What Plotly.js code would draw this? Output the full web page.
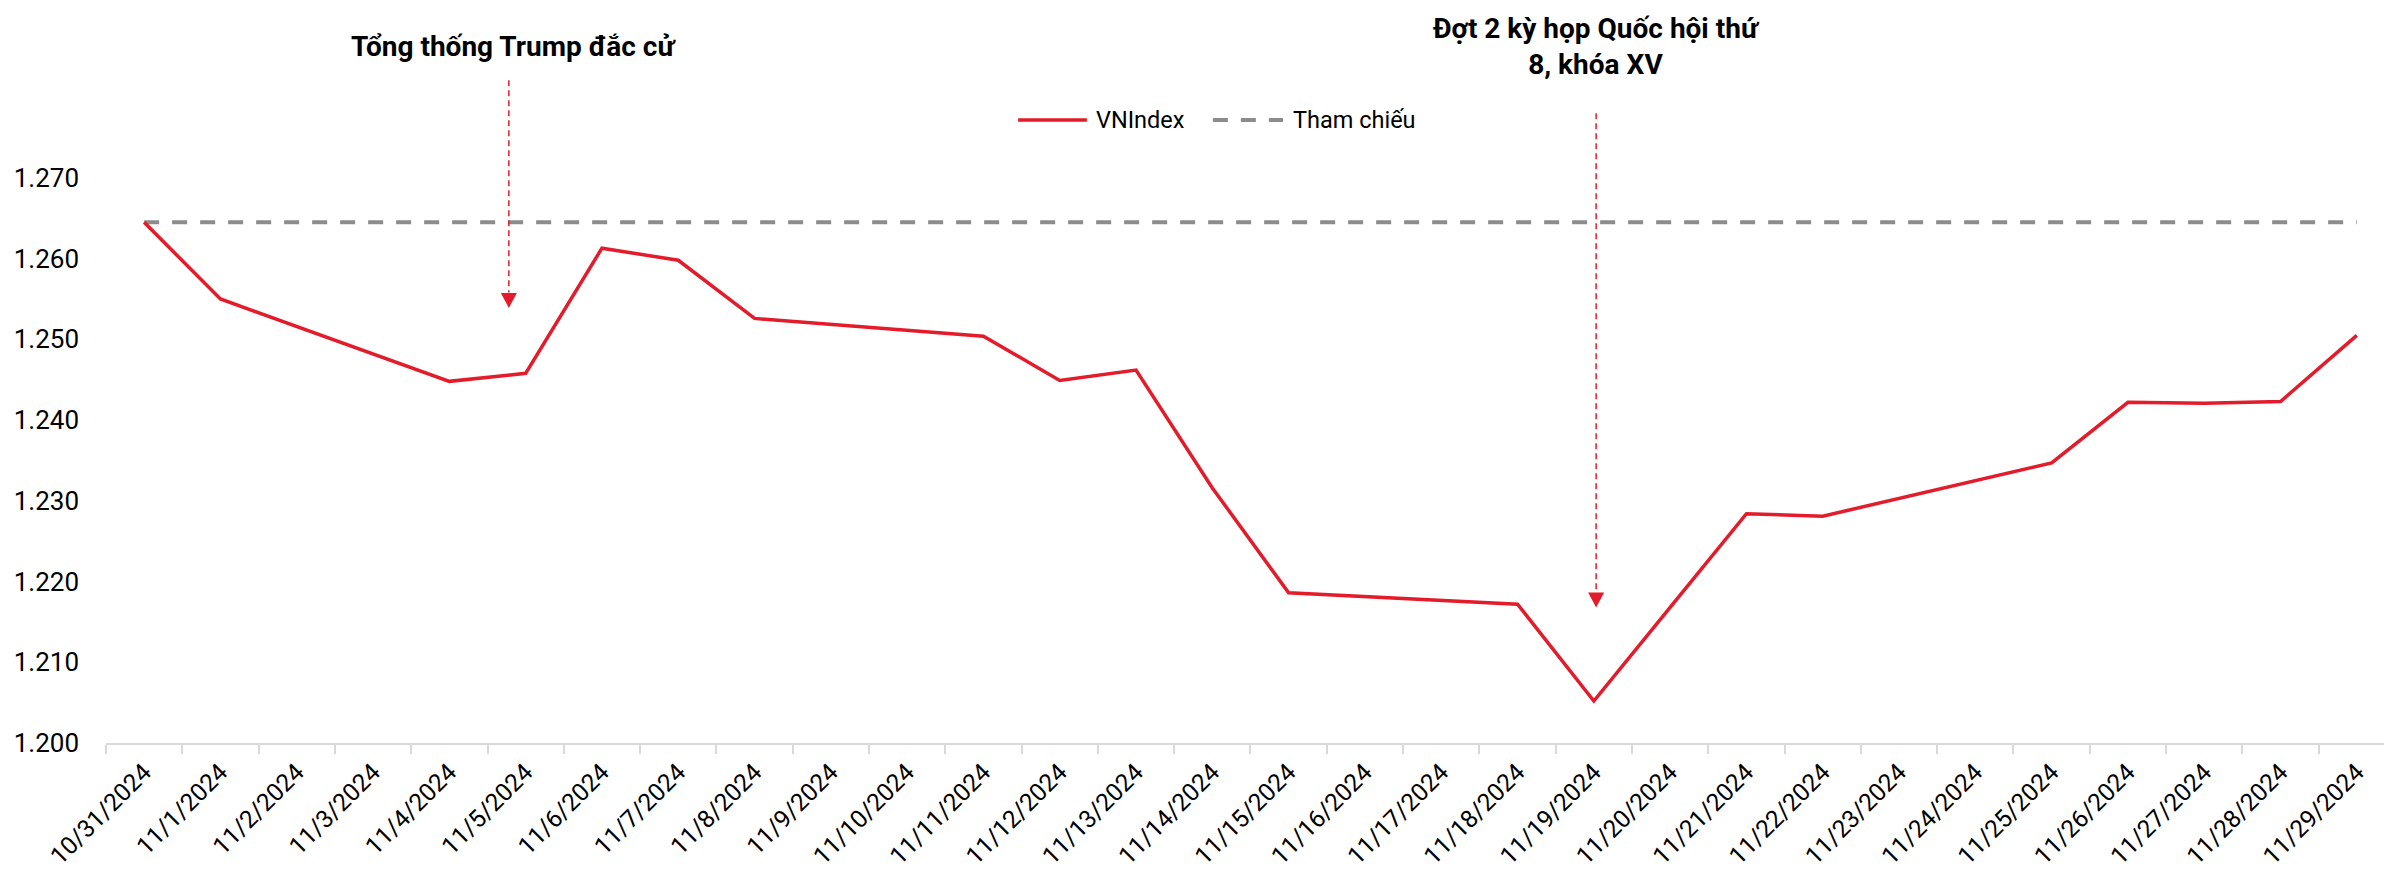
<!DOCTYPE html>
<html>
<head>
<meta charset="utf-8">
<script src="https://cdn.plot.ly/plotly-3.0.1.min.js"></script>
<style>
html,body{margin:0;padding:0;background:#fff;}
#chart{width:2384px;height:873px;}
</style>
</head>
<body>
<div id="chart"></div>
<script>
// ---- data ----
var dates = ["10/31/2024","11/1/2024","11/2/2024","11/3/2024","11/4/2024","11/5/2024","11/6/2024","11/7/2024","11/8/2024","11/9/2024","11/10/2024","11/11/2024","11/12/2024","11/13/2024","11/14/2024","11/15/2024","11/16/2024","11/17/2024","11/18/2024","11/19/2024","11/20/2024","11/21/2024","11/22/2024","11/23/2024","11/24/2024","11/25/2024","11/26/2024","11/27/2024","11/28/2024","11/29/2024"];
var vnindex = [1264.5,1255.0,null,null,1244.8,1245.8,1261.3,1259.8,1252.6,null,null,1250.4,1244.9,1246.2,1231.6,1218.6,null,null,1217.2,1205.2,1216.8,1228.4,1228.1,null,null,1234.7,1242.2,1242.1,1242.3,1250.5];
var thamChieu = [1264.5,1264.5,1264.5,1264.5,1264.5,1264.5,1264.5,1264.5,1264.5,1264.5,1264.5,1264.5,1264.5,1264.5,1264.5,1264.5,1264.5,1264.5,1264.5,1264.5,1264.5,1264.5,1264.5,1264.5,1264.5,1264.5,1264.5,1264.5,1264.5,1264.5];
var yTicks = [1200,1210,1220,1230,1240,1250,1260,1270];
var seriesNames = ["VNIndex","Tham chiếu"];
var event1 = "Tổng thống Trump đắc cử";
var event2 = "Đợt 2 kỳ họp Quốc hội thứ<br>8, khóa XV";

// ---- styles ----
var RED = "#E31B2A";
var GREY = "#8C8C8C";
var FONT = "Roboto, 'Liberation Sans', sans-serif";

var traces = [
  {x: dates, y: thamChieu, type: "scatter", mode: "lines", name: seriesNames[1],
   line: {color: GREY, width: 4, dash: "15px,13px"}, hoverinfo: "skip"},
  {x: dates, y: vnindex, type: "scatter", mode: "lines", name: seriesNames[0],
   connectgaps: true, line: {color: RED, width: 3.5}}
];

var legY = 0.93;

var layout = {
  width: 2384, height: 873,
  margin: {l: 106, r: 0, t: 73, b: 130, pad: 0},
  paper_bgcolor: "#fff", plot_bgcolor: "#fff",
  separators: ",.",
  showlegend: false,
  font: {family: FONT, color: "#000", size: 25},
  xaxis: {
    type: "category",
    range: [-0.5, 29.356],
    showgrid: false, zeroline: false,
    showline: true, linecolor: "#D9D9D9", linewidth: 2,
    ticks: "outside", tickson: "boundaries", ticklen: 9, tickwidth: 2, tickcolor: "#D9D9D9",
    tickangle: -45,
    tickfont: {family: FONT, size: 24.5, color: "#000"},
    ticklabelstandoff: 3
  },
  yaxis: {
    range: [1200, 1283],
    tickvals: yTicks,
    tickformat: ",d",
    showgrid: false, zeroline: false, showline: false, ticks: "",
    tickfont: {family: FONT, size: 26, color: "#000"},
    ticklabelstandoff: 26
  },
  shapes: [
    {type: "line", xref: "x", yref: "y", x0: 4.78, x1: 4.78, y0: 1282.1, y1: 1255.8,
     line: {color: RED, width: 1.5, dash: "6px,4px"}},
    {type: "path", xref: "x", yref: "y", xsizemode: "pixel", ysizemode: "pixel",
     xanchor: 4.78, yanchor: 1253.9, path: "M -8,15 L 8,15 L 0,0 Z",
     fillcolor: RED, line: {width: 0}},
    {type: "line", xref: "x", yref: "y", x0: 19.03, x1: 19.03, y0: 1278.0, y1: 1218.6,
     line: {color: RED, width: 1.5, dash: "6px,4px"}},
    {type: "path", xref: "x", yref: "y", xsizemode: "pixel", ysizemode: "pixel",
     xanchor: 19.03, yanchor: 1216.8, path: "M -8,15 L 8,15 L 0,0 Z",
     fillcolor: RED, line: {width: 0}},
    {type: "line", xref: "paper", yref: "paper", x0: 0.4004, x1: 0.4306, y0: legY, y1: legY,
     line: {color: RED, width: 3.5}},
    {type: "line", xref: "paper", yref: "paper", x0: 0.4859, x1: 0.5167, y0: legY, y1: legY,
     line: {color: GREY, width: 4, dash: "15px,13px"}}
  ],
  annotations: [
    {text: "<b>" + event1 + "</b>", xref: "x", yref: "paper", x: 4.84, y: 1.039,
     xanchor: "center", yanchor: "middle", showarrow: false,
     font: {family: FONT, size: 28, color: "#000"}},
    {text: "<b>" + event2 + "</b>", xref: "x", yref: "paper", x: 19.03, y: 1.039,
     xanchor: "center", yanchor: "middle", showarrow: false, align: "center",
     font: {family: FONT, size: 28, color: "#000"}},
    {text: seriesNames[0], xref: "paper", yref: "paper", x: 0.4337, y: legY,
     xanchor: "left", yanchor: "middle", showarrow: false,
     font: {family: FONT, size: 23.5, color: "#000"}},
    {text: seriesNames[1], xref: "paper", yref: "paper", x: 0.5202, y: legY,
     xanchor: "left", yanchor: "middle", showarrow: false,
     font: {family: FONT, size: 23.5, color: "#000"}}
  ]
};

Plotly.newPlot("chart", traces, layout, {displayModeBar: false, staticPlot: true});
</script>
</body>
</html>
